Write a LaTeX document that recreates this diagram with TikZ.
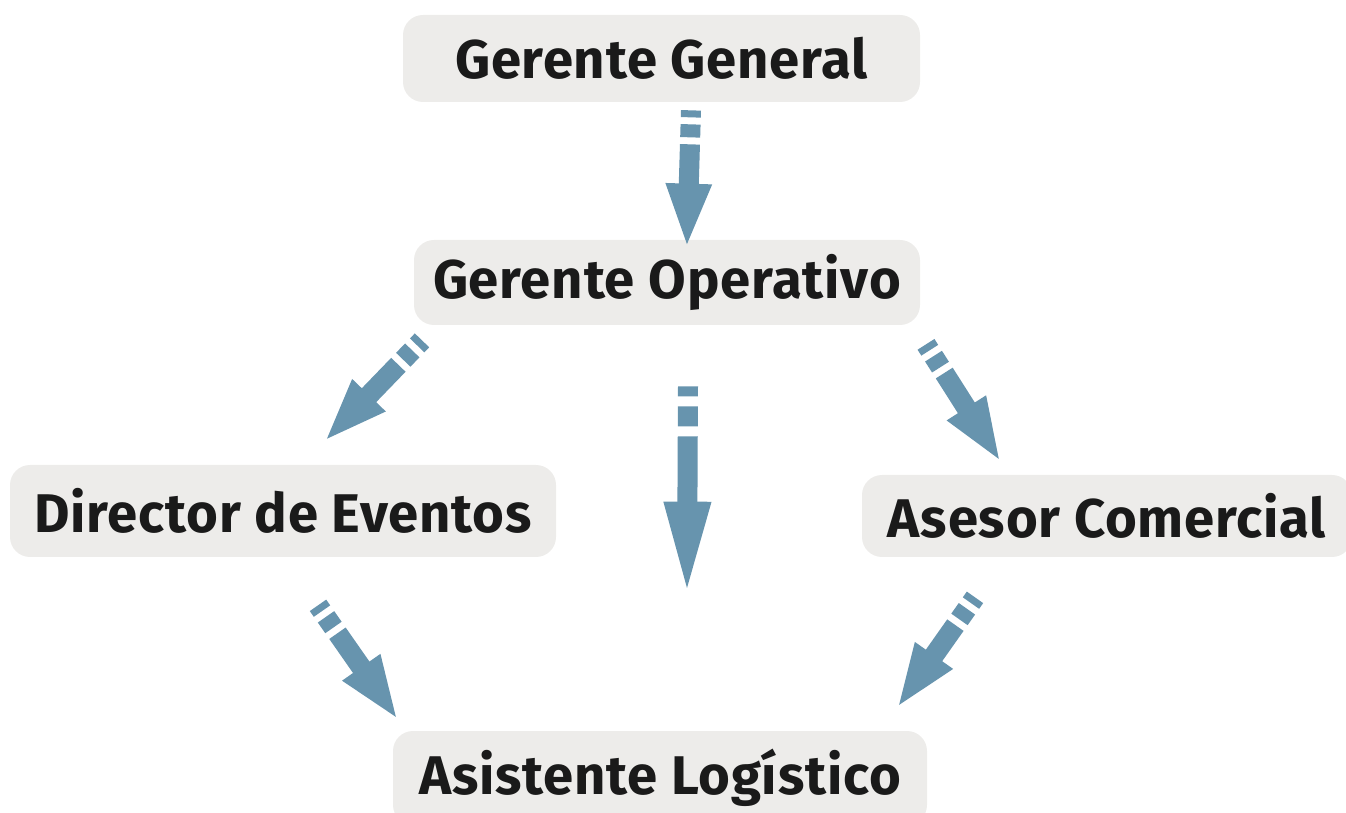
\documentclass[tikz,border=0pt]{standalone}
\usepackage{fontspec}
\setmainfont{Fira Sans}[LetterSpace=1.5]
\usepackage{tikz}
\usetikzlibrary{arrows.meta}

\definecolor{boxgray}{HTML}{EDECEA}
\definecolor{flowblue}{HTML}{6794AE}
\definecolor{inkblack}{HTML}{1A1A1A}

\begin{document}
\begin{tikzpicture}[
    role/.style = {fill=boxgray, rounded corners=0.4cm, text=inkblack,
                   font=\fontsize{31}{37}\selectfont\bfseries, inner sep=0pt},
    flow/.style = {draw=flowblue, line width=0.4cm, shorten >=-0.12cm,
                   dash pattern=on 0.14cm off 0.14cm on 0.26cm off 0.14cm on 20cm,
                   -{Triangle[width=0.82cm,length=1.3cm,fill=flowblue]}},
    longflow/.style = {flow, shorten >=-0.28cm,
                   dash pattern=on 0.2cm off 0.2cm on 0.4cm off 0.2cm on 20cm,
                   -{Triangle[width=0.82cm,length=1.96cm,fill=flowblue]}}]
    \useasboundingbox (0,0) rectangle (26.92,-16.26);
    \node[role, minimum width=10.34cm, minimum height=1.74cm] (gg) at (13.23,-1.17) {Gerente General};
    \node[role, minimum width=10.12cm, minimum height=1.70cm] (go) at (13.34,-5.65) {Gerente Operativo};
    \node[role, minimum width=10.92cm, minimum height=1.84cm] (de) at (5.66,-10.22) {Director de Eventos};
    \node[role, minimum width=9.80cm, minimum height=1.64cm] (ac) at (22.14,-10.32) {Asesor Comercial};
    \node[role, minimum width=10.68cm, minimum height=1.88cm] (al) at (13.20,-15.56) {Asistente Logístico};
    % flechas
    \draw[flow] ([shift={(0.59,-0.16)}]gg.south) -- ([shift={(0.40,-0.06)}]go.north);
    \draw[flow] ([shift={(-4.90,-0.30)}]go.south) -- ([shift={(0.90,0.54)}]de.north);
    \draw[longflow] ([shift={(0.42,-1.22)}]go.south) -- ([shift={(0.54,2.90)}]al.north);
    \draw[flow] ([shift={(5.18,-0.38)}]go.south) -- ([shift={(-2.18,0.34)}]ac.north);
    \draw[flow] ([shift={(0.70,-0.96)}]de.south) -- ([shift={(-5.30,0.30)}]al.north);
    \draw[flow] ([shift={(-2.64,-0.80)}]ac.south) -- ([shift={(4.80,0.54)}]al.north);
\end{tikzpicture}
\end{document}
